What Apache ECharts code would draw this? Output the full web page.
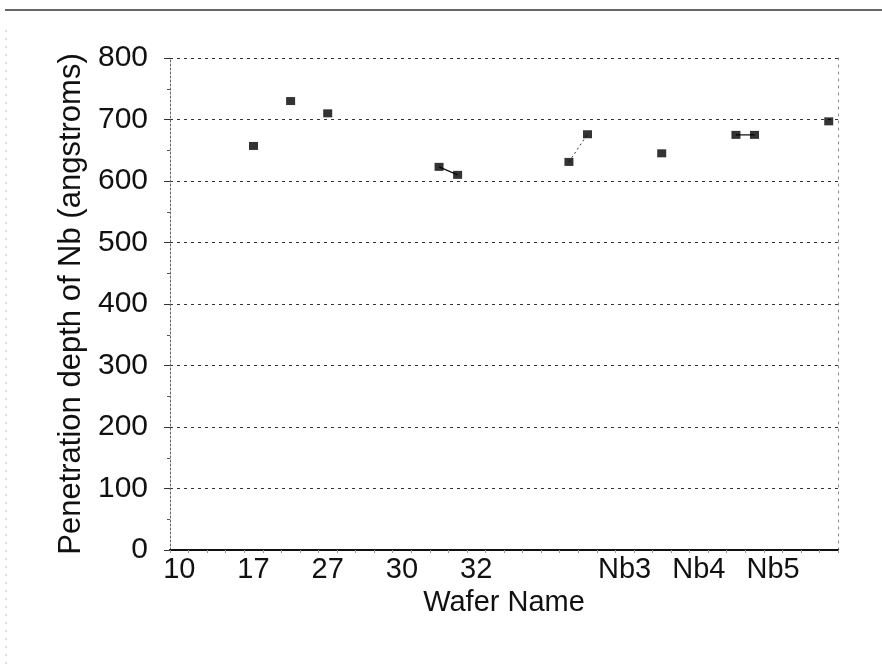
<!DOCTYPE html>
<html>
<head>
<meta charset="utf-8">
<script src="https://cdn.jsdelivr.net/npm/echarts@6/dist/echarts.min.js"></script>
<style>
  html, body { margin: 0; padding: 0; background: #fff; }
  #main { width: 882px; height: 669px; }
</style>
</head>
<body>
<div id="main"></div>
<script>
// 36 wafer slots, only some have a name printed under them
let slotNames = ['10','','','','17','','','','27','','','','30','','','','32','','','',
                 '','','','','Nb3','','','','Nb4','','','','Nb5','','',''];
// penetration depth per slot (angstroms), null = no measurement
let depth = [null,null,null,null,657,null,730,null,710,null,null,null,null,null,623,610,null,null,null,null,
             null,631,676,null,null,null,645,null,null,null,675,675,null,null,null,697];
// pairs of slots joined by a line
let solidPairs = [[14,15],[30,31]];
let dottedPairs = [[21,22]];
let yTicks = [0,100,200,300,400,500,600,700,800];

function pairData(pairs) {
    return depth.map(function (v, i) {
        for (let p of pairs) {
            if (i === p[0] || i === p[1]) return v;
        }
        return null;
    });
}

let chart = echarts.init(document.getElementById('main'));
let option = {
    backgroundColor: '#fff',
    animation: false,
    textStyle: { fontFamily: 'Liberation Sans' },
    grid: { left: 170, right: 44, top: 58, bottom: 119 },
    graphic: [
        { type: 'line', shape: { x1: 5, y1: 10, x2: 882, y2: 10 },
          style: { stroke: '#333', lineWidth: 1.5 } },
        { type: 'line', shape: { x1: 6, y1: 30, x2: 6, y2: 669 },
          style: { stroke: '#bbb', lineWidth: 1, lineDash: [2, 6] } }
    ],
    xAxis: [
        {
            type: 'category',
            data: slotNames,
            boundaryGap: true,
            name: 'Wafer Name',
            nameLocation: 'middle',
            nameGap: 38,
            nameTextStyle: { fontSize: 29, color: '#111' },
            axisLine: { lineStyle: { color: '#111', width: 2 } },
            axisTick: { show: true, interval: 0, length: 3, lineStyle: { color: '#999' } },
            axisLabel: { interval: 0, fontSize: 29, color: '#111', margin: 5 },
            splitLine: { show: false }
        },
        {
            type: 'category',
            data: slotNames,
            position: 'top',
            axisLine: { lineStyle: { color: '#111', width: 1.5 } },
            axisTick: { show: false },
            axisLabel: { show: false }
        }
    ],
    yAxis: [
        {
            type: 'value',
            min: 0,
            max: 800,
            interval: 100,
            name: 'Penetration depth of Nb (angstroms)',
            nameLocation: 'middle',
            nameGap: 82,
            nameTextStyle: { fontSize: 31, color: '#111' },
            axisLine: { show: true, lineStyle: { color: '#666', type: [2, 2] } },
            axisTick: { show: true, inside: false, length: 6, lineStyle: { color: '#333' } },
            minorTick: { show: true, splitNumber: 2, length: 3, lineStyle: { color: '#555' } },
            axisLabel: {
                fontSize: 30, color: '#111', margin: 22,
                formatter: function (v) { return yTicks.indexOf(v) >= 0 ? String(v) : ''; }
            },
            splitLine: { show: true, lineStyle: { color: '#333', type: [3, 4], width: 1 } }
        },
        {
            type: 'value',
            min: 0,
            max: 800,
            interval: 100,
            position: 'right',
            axisLine: { show: true, lineStyle: { color: '#888', type: [2, 5] } },
            axisTick: { show: false },
            axisLabel: { show: false },
            splitLine: { show: false }
        }
    ],
    series: [
        {
            type: 'line',
            data: pairData(solidPairs),
            connectNulls: false,
            showSymbol: false,
            symbol: 'none',
            lineStyle: { color: '#111', width: 1.2 },
            z: 2
        },
        {
            type: 'line',
            data: pairData(dottedPairs),
            connectNulls: false,
            showSymbol: false,
            symbol: 'none',
            lineStyle: { color: '#333', width: 1, type: [2, 3] },
            z: 2
        },
        {
            type: 'scatter',
            data: depth,
            symbol: 'rect',
            symbolSize: [9, 8],
            itemStyle: { color: '#000' },
            z: 3
        }
    ]
};
chart.setOption(option);
</script>
</body>
</html>
